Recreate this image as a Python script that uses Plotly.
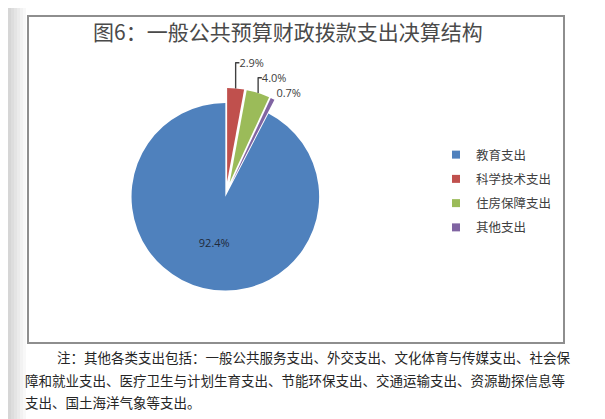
import plotly.graph_objects as go

W, H = 605, 419

categories = ["教育支出", "科学技术支出", "住房保障支出", "其他支出"]
shares = [92.4, 2.9, 4.0, 0.7]
colors = ["#4F81BD", "#C0504D", "#9BBB59", "#8064A2"]
title_text = "图6：一般公共预算财政拨款支出决算结构"
note_lines = [
    "注：其他各类支出包括：一般公共服务支出、外交支出、文化体育与传媒支出、社会保",
    "障和就业支出、医疗卫生与计划生育支出、节能环保支出、交通运输支出、资源勘探信息等",
    "支出、国土海洋气象等支出。",
]


def px(x):
    return x / W


def py(y):
    return 1 - y / H


cx, cy, half = 218, 186, 106

fig = go.Figure()
fig.add_trace(go.Pie(
    labels=categories,
    values=shares,
    sort=False,
    direction="clockwise",
    rotation=sum(shares[1:]) / 100 * 360,
    pull=[0.03, 0.13, 0.13, 0.13],
    marker=dict(colors=colors, line=dict(width=0)),
    texttemplate="%{value:.1f}%",
    textposition=["inside", "outside", "outside", "outside"],
    insidetextorientation="horizontal",
    textfont=dict(family="Open Sans", size=11, color="#404040"),
    insidetextfont=dict(family="Open Sans", size=11, color="#1F2A3A"),
    outsidetextfont=dict(family="Open Sans", size=11, color="#404040"),
    hoverinfo="label+percent",
    showlegend=False,
    domain=dict(x=[px(cx - half), px(cx + half)], y=[py(cy + half), py(cy - half)]),
    automargin=False,
))

# legend entries (one per category)
for name, col in zip(categories, colors):
    fig.add_trace(go.Scatter(
        x=[None], y=[None], mode="markers", name=name, legendgroup=name,
        marker=dict(symbol="square", size=8, color=col),
        hoverinfo="skip", showlegend=True,
    ))

shapes = []
# left page shading
grays = ["#D6D6D6", "#DDDDDD", "#E4E4E4", "#EBEBEB", "#F2F2F2", "#F8F8F8"]
for i, g in enumerate(grays):
    shapes.append(dict(type="rect", xref="paper", yref="paper",
                       x0=px(i * 3), x1=px(i * 3 + 3), y0=0, y1=1,
                       fillcolor=g, line=dict(width=0), layer="below"))
# chart frame
shapes.append(dict(type="rect", xref="paper", yref="paper",
                   x0=px(20), x1=px(556), y0=py(335), y1=py(8),
                   fillcolor="white", line=dict(color="#8E8E8E", width=2), layer="below"))

annotations = [dict(text=title_text, x=px(280), y=py(23), xref="paper", yref="paper",
                    xanchor="center", yanchor="middle", showarrow=False,
                    font=dict(family="Noto Sans CJK SC", size=21, color="#4A4A4A"))]
note_pos = [(47, 349), (15, 372), (15, 394)]
for line, (x, y) in zip(note_lines, note_pos):
    annotations.append(dict(text=line, x=px(x), y=py(y), xref="paper", yref="paper",
                            xanchor="left", yanchor="middle", showarrow=False,
                            font=dict(family="Noto Sans CJK SC", size=13.5, color="#262626")))

fig.update_layout(
    width=W, height=H,
    margin=dict(l=0, r=0, t=0, b=0),
    paper_bgcolor="white",
    plot_bgcolor="rgba(0,0,0,0)",
    xaxis=dict(visible=False, range=[0, 1]),
    yaxis=dict(visible=False, range=[0, 1]),
    shapes=shapes,
    annotations=annotations,
    showlegend=True,
    legend=dict(x=px(428), y=py(132), xanchor="left", yanchor="top",
                font=dict(family="Noto Sans CJK SC", size=12.5, color="#404040"),
                traceorder="grouped", tracegroupgap=5,
                bgcolor="rgba(0,0,0,0)"),
)

fig.write_html("out.html")
